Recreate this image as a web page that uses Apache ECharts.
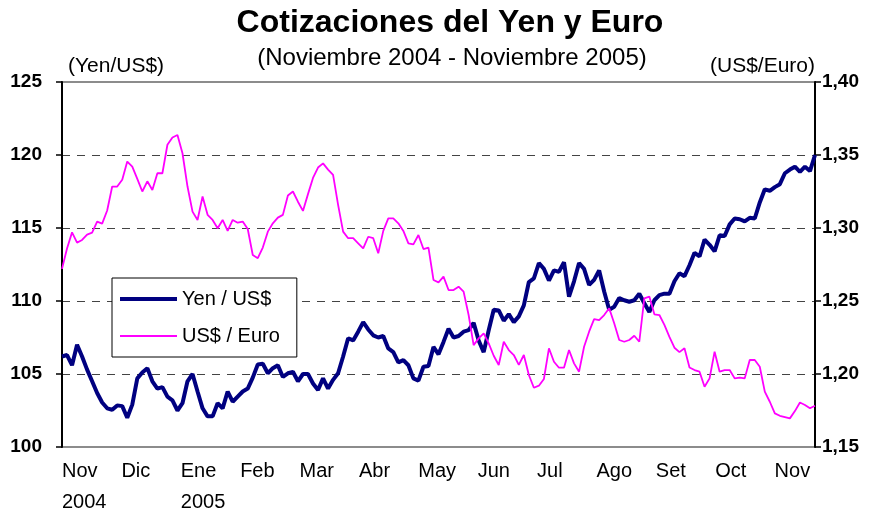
<!DOCTYPE html>
<html>
<head>
    <meta charset="utf-8">
    <title>Cotizaciones del Yen y Euro</title>
    <script src="https://cdn.jsdelivr.net/npm/echarts@6/dist/echarts.min.js"></script>
    <style>
        html, body { margin: 0; padding: 0; background: #fff; }
        #chart { width: 875px; height: 515px; }
    </style>
</head>
<body>
<div id="chart"></div>
<script>
    // datos (aprox. cada 5 px, nov-2004 a nov-2005)
    const yenUsd = [
        106.2, 106.3, 105.6, 107.0, 106.2, 105.3, 104.5, 103.7, 103.05, 102.65,
        102.55, 102.85, 102.8, 102.0, 102.9, 104.7, 105.1, 105.4, 104.5, 104.0,
        104.1, 103.45, 103.2, 102.5, 103.0, 104.5, 105.0, 103.8, 102.65, 102.1,
        102.1, 103.0, 102.65, 103.8, 103.1, 103.45, 103.8, 104.0, 104.75, 105.65,
        105.7, 105.05, 105.4, 105.6, 104.8, 105.05, 105.15, 104.5, 105.0, 105.0,
        104.35, 103.9, 104.7, 104.0, 104.6, 105.05, 106.2, 107.45, 107.3, 107.9,
        108.55, 108.05, 107.65, 107.5, 107.6, 106.75, 106.5, 105.8, 105.95, 105.6,
        104.7, 104.55, 105.5, 105.55, 106.85, 106.35, 107.2, 108.1, 107.5, 107.6,
        107.9, 108.0, 108.5, 107.3, 106.5, 108.0, 109.4, 109.35, 108.65, 109.1,
        108.55, 108.95, 109.7, 111.3, 111.55, 112.6, 112.2, 111.4, 112.1, 112.0,
        112.65, 110.3, 111.35, 112.6, 112.2, 111.1, 111.45, 112.1, 110.65, 109.4,
        109.6, 110.2, 110.05, 109.95, 110.05, 110.5, 109.85, 109.25, 110.05, 110.4,
        110.5, 110.5, 111.35, 111.9, 111.7, 112.45, 113.3, 113.05, 114.2, 113.85,
        113.4, 114.5, 114.45, 115.25, 115.65, 115.6, 115.45, 115.7, 115.65, 116.75,
        117.65, 117.55, 117.8, 118.0, 118.75, 119.0, 119.2, 118.85, 119.2, 118.9,
        120.0
    ];
    const usdEuro = [
        1.272, 1.286, 1.297, 1.290, 1.2918, 1.2955, 1.2968, 1.3044, 1.303, 1.312,
        1.3284, 1.3284, 1.333, 1.3455, 1.342, 1.3336, 1.325, 1.332, 1.326, 1.3375,
        1.3375, 1.357, 1.362, 1.3637, 1.3512, 1.3284, 1.3112, 1.3055, 1.3216, 1.309,
        1.3055, 1.2998, 1.3055, 1.298, 1.3055, 1.3036, 1.3044, 1.2993, 1.2815, 1.2793,
        1.2866, 1.2975, 1.3032, 1.3071, 1.309, 1.3223, 1.325, 1.318, 1.3117, 1.3232,
        1.3343, 1.3414, 1.3443, 1.340, 1.3364, 1.3158, 1.2975, 1.293, 1.293, 1.2895,
        1.286, 1.294, 1.293, 1.2827, 1.298, 1.3066, 1.3066, 1.3032, 1.298, 1.2895,
        1.2888, 1.2952, 1.2856, 1.2866, 1.2644, 1.2628, 1.2667, 1.2575, 1.2575, 1.2598,
        1.2564, 1.2404, 1.2198, 1.2244, 1.2278, 1.221, 1.2125, 1.2062, 1.2221, 1.2164,
        1.213, 1.2062, 1.213, 1.1993, 1.1906, 1.192, 1.1966, 1.2176, 1.2084, 1.2043,
        1.2043, 1.2164, 1.2073, 1.2016, 1.2187, 1.229, 1.2376, 1.2369, 1.2404, 1.245,
        1.2347, 1.2233, 1.2221, 1.2233, 1.2262, 1.2221, 1.2518, 1.253, 1.2409, 1.2404,
        1.2336, 1.2254, 1.218, 1.215, 1.2176, 1.2045, 1.2027, 1.2016, 1.1913, 1.197,
        1.2153, 1.2016, 1.2027, 1.2027, 1.197, 1.1975, 1.197, 1.2096, 1.2096, 1.205,
        1.1879, 1.181, 1.173, 1.1714, 1.1705, 1.1696, 1.1746, 1.1805, 1.1788, 1.1765,
        1.1783
    ];
    const meses = ['Nov\n2004', 'Dic', 'Ene\n2005', 'Feb', 'Mar', 'Abr', 'May', 'Jun', 'Jul', 'Ago', 'Set', 'Oct', 'Nov'];
    const yenTicks = [100, 125, 5];
    const euroTicks = [1.15, 1.40, 0.05];

    const fuente = "'Liberation Sans', Arial, sans-serif";
    const indices = yenUsd.map(function (v, i) { return i; });

    var myChart = echarts.init(document.getElementById('chart'));
    let option = {
        animation: false,
        backgroundColor: '#fff',
        textStyle: { fontFamily: fuente, color: '#000' },
        title: [
            {
                text: 'Cotizaciones del Yen y Euro',
                left: 445, top: 2, textAlign: 'center',
                textStyle: { fontFamily: fuente, fontSize: 32, fontWeight: 'bold', color: '#000' }
            },
            {
                text: '(Noviembre 2004 - Noviembre 2005)',
                left: 447, top: 41, textAlign: 'center',
                textStyle: { fontFamily: fuente, fontSize: 24, fontWeight: 'normal', color: '#000' }
            }
        ],
        legend: {
            orient: 'vertical',
            left: 112, top: 278,
            padding: [11, 17, 11, 6],
            itemGap: 17,
            itemWidth: 57, itemHeight: 14,
            borderColor: '#000', borderWidth: 1,
            backgroundColor: '#fff',
            itemStyle: { opacity: 0 },
            textStyle: { fontFamily: fuente, fontSize: 20, color: '#000' },
            data: [
                { name: 'Yen / US$', lineStyle: { width: 4, color: '#000080' } },
                { name: 'US$ / Euro', lineStyle: { width: 2, color: '#ff00ff' } }
            ]
        },
        grid: {
            left: 62, right: 60, top: 82, bottom: 68,
            outerBoundsMode: 'none', containLabel: false,
            show: true, borderColor: '#8c8c8c', borderWidth: 2
        },
        xAxis: [
            {
                type: 'category', data: indices, boundaryGap: false, position: 'top',
                axisLine: { show: false }, axisTick: { show: false },
                axisLabel: { show: false }, splitLine: { show: false }
            },
            {
                type: 'value', min: 0, max: 12.68, interval: 1, position: 'bottom',
                axisLine: { show: false }, axisTick: { show: false }, splitLine: { show: false },
                axisLabel: {
                    align: 'left', margin: 9, fontSize: 20, lineHeight: 31,
                    fontFamily: fuente, color: '#000', showMaxLabel: false,
                    formatter: function (v) { return Number.isInteger(v) ? meses[v] : ''; }
                }
            }
        ],
        yAxis: [
            {
                type: 'value', position: 'left',
                min: yenTicks[0], max: yenTicks[1], interval: yenTicks[2],
                name: '(Yen/US$)', nameLocation: 'end', nameGap: 5,
                nameTextStyle: { fontFamily: fuente, fontSize: 21, color: '#000', align: 'left', padding: [0, 0, 0, 6] },
                axisLine: { show: true, lineStyle: { color: '#000', width: 2 } },
                axisTick: { show: true, length: 6, lineStyle: { color: '#000', width: 1.5 } },
                axisLabel: { margin: 20, fontSize: 19, fontWeight: 'bold', fontFamily: fuente, color: '#000' },
                splitLine: {
                    show: true, showMinLine: false, showMaxLine: false,
                    lineStyle: { color: '#444', width: 1.2, type: [8, 7] }
                }
            },
            {
                type: 'value', position: 'right',
                min: euroTicks[0], max: euroTicks[1], interval: euroTicks[2],
                name: '(US$/Euro)', nameLocation: 'end', nameGap: 5,
                nameTextStyle: { fontFamily: fuente, fontSize: 21, color: '#000', align: 'right' },
                axisLine: { show: true, lineStyle: { color: '#000', width: 2 } },
                axisTick: { show: true, length: 6, lineStyle: { color: '#000', width: 1.5 } },
                axisLabel: {
                    margin: 7, fontSize: 19, fontWeight: 'bold', fontFamily: fuente, color: '#000',
                    formatter: function (v) { return v.toFixed(2).replace('.', ','); }
                },
                splitLine: { show: false }
            }
        ],
        series: [
            {
                name: 'Yen / US$', type: 'line', xAxisIndex: 0, yAxisIndex: 0,
                data: yenUsd, symbol: 'none',
                lineStyle: { color: '#000080', width: 4 },
                itemStyle: { color: '#000080' }
            },
            {
                name: 'US$ / Euro', type: 'line', xAxisIndex: 0, yAxisIndex: 1,
                data: usdEuro, symbol: 'none',
                lineStyle: { color: '#ff00ff', width: 1.8 },
                itemStyle: { color: '#ff00ff' }
            }
        ]
    };
    myChart.setOption(option);
</script>
</body>
</html>
